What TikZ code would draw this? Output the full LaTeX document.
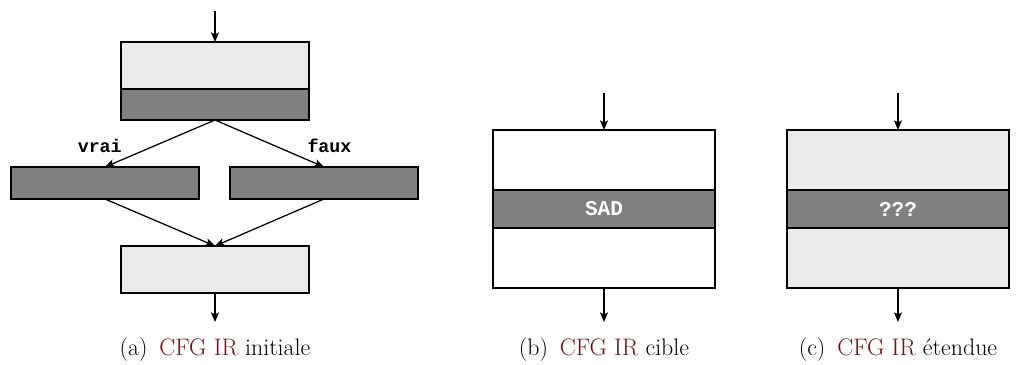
\documentclass[tikz,border=0pt]{standalone}
\usepackage{fontspec}
\newfontfamily\codefont{Liberation Mono}
\usetikzlibrary{positioning,arrows.meta}
\definecolor{linkred}{RGB}{110,20,20}
\definecolor{lightbg}{RGB}{235,235,235}
\definecolor{darkbg}{RGB}{128,128,128}

\begin{document}
\begin{tikzpicture}[>={Stealth[length=2.4mm, width=2mm, inset=0.5mm]}, node distance=0pt, line width=1.2pt,
    block/.style={draw, outer sep=0pt, inner sep=0pt, minimum width=4.7cm},
    light/.style={block, fill=lightbg, minimum height=1.175cm},
    dark/.style={block, fill=darkbg, minimum height=0.8cm},
    wide/.style={draw, outer sep=0pt, inner sep=0pt, minimum width=5.55cm, minimum height=1.5cm},
    band/.style={wide, fill=darkbg, minimum height=0.95cm, text=white, font=\codefont\bfseries\fontsize{15}{15}\selectfont},
    edgelabel/.style={font=\codefont\bfseries\fontsize{13}{13}\selectfont},
    caption/.style={font=\fontsize{17}{20}\selectfont},
    flow/.style={->, line width=0.9pt}]
  \useasboundingbox (0,0) rectangle (25.6,-9.125);

  % (a) initial CFG
  \node[light] (entA) at (5.375,-1.6375) {};
  \node[dark, minimum height=0.775cm] (condA) [below=of entA] {};
  \node[dark] (thenA) at (2.625,-4.575) {};
  \node[dark] (elseA) at (8.1,-4.575) {};
  \node[light] (joinA) at (5.375,-6.7375) {};
  \coordinate (inA) at (5.375,-0.275);
  \coordinate (outA) at (5.375,-8.05);
  \draw[flow] (inA) -- (entA);
  \draw[flow] (condA.south) -- node[pos=0.8, above left, edgelabel] {vrai} (thenA.north);
  \draw[flow] (condA.south) -- node[pos=0.8, above right, edgelabel] {faux} (elseA.north);
  \draw[flow] (thenA.south) -- (joinA.north);
  \draw[flow] (elseA.south) -- (joinA.north);
  \draw[flow] (joinA) -- (outA);
  \node[caption] (capA) at (5.375,-8.75) {(a)\enspace\textcolor{linkred}{CFG IR} initiale};

  % (b) target CFG
  \node[wide, fill=white] (topB) at (15.1,-4.0) {};
  \node[band] (sadB) [below=of topB] {SAD};
  \node[wide, fill=white] (botB) [below=of sadB] {};
  \coordinate (inB) at (15.1,-2.325);
  \coordinate (outB) at (15.1,-8.05);
  \draw[flow] (inB) -- (topB);
  \draw[flow] (botB) -- (outB);
  \node[caption] (capB) at (15.1,-8.75) {(b)\enspace\textcolor{linkred}{CFG IR} cible};

  % (c) extended CFG
  \node[wide, fill=lightbg] (topC) at (22.45,-4.0) {};
  \node[band] (unkC) [below=of topC] {???};
  \node[wide, fill=lightbg] (botC) [below=of unkC] {};
  \coordinate (inC) at (22.45,-2.325);
  \coordinate (outC) at (22.45,-8.05);
  \draw[flow] (inC) -- (topC);
  \draw[flow] (botC) -- (outC);
  \node[caption] (capC) at (22.45,-8.75) {(c)\enspace\textcolor{linkred}{CFG IR} étendue};
\end{tikzpicture}
\end{document}
